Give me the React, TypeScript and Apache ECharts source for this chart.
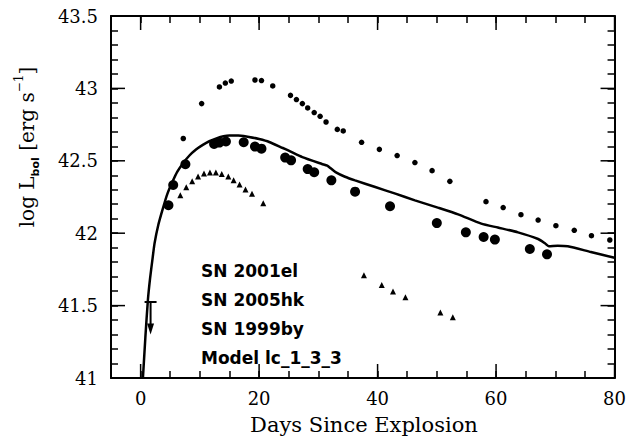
import React, { useEffect, useRef } from "react";
import * as echarts from "echarts";

// SN 2001el (upper small dots): [day, log L]
const sn2001el: number[][] = [
  [7.2, 42.654], [10.3, 42.895], [13.3, 43.01], [14.3, 43.037], [15.3, 43.051],
  [19.3, 43.058], [20.4, 43.054], [22.3, 43.017], [25.3, 42.952], [26.3, 42.923],
  [27.3, 42.895], [28.2, 42.865], [29.3, 42.833], [30.3, 42.807], [31.3, 42.768],
  [33.2, 42.717], [34.2, 42.706], [37.3, 42.628], [40.3, 42.579], [43.3, 42.536],
  [46.3, 42.488], [49.2, 42.432], [52.2, 42.358], [58.3, 42.218], [61.2, 42.177],
  [64.2, 42.128], [67.1, 42.091], [70.1, 42.052], [73.2, 42.02], [76.1, 41.983],
  [79.2, 41.953],
];

// SN 2005hk (large circles)
const sn2005hk: number[][] = [
  [4.7, 42.193], [5.5, 42.333], [7.56, 42.476], [12.4, 42.616], [13.3, 42.626],
  [14.4, 42.633], [17.4, 42.628], [19.3, 42.598], [20.4, 42.584], [24.4, 42.522],
  [25.4, 42.503], [28.2, 42.443], [29.3, 42.421], [32.2, 42.365], [36.2, 42.287],
  [42.1, 42.186], [50.0, 42.07], [54.9, 42.006], [57.9, 41.974], [59.8, 41.956],
  [65.7, 41.891], [68.6, 41.854],
];

// SN 1999by (small triangles)
const sn1999by: number[][] = [
  [6.7, 42.262], [7.7, 42.317], [8.7, 42.358], [9.7, 42.391], [10.7, 42.412],
  [11.7, 42.419], [12.7, 42.419], [13.7, 42.409], [14.8, 42.391], [15.7, 42.365],
  [16.7, 42.336], [17.7, 42.301], [18.8, 42.273], [20.7, 42.206], [37.7, 41.709],
  [40.7, 41.642], [42.6, 41.597], [44.7, 41.557], [50.6, 41.452], [52.7, 41.419],
];

// Model lc_1_3_3 (solid curve)
const modelCurve: number[][] = [
  [0.39, 41.0], [0.8, 41.28], [1.23, 41.54], [1.6, 41.69], [1.97, 41.81],
  [2.35, 41.93], [3.0, 42.06], [3.75, 42.17], [4.5, 42.27], [5.43, 42.36],
  [6.2, 42.425], [7.1, 42.48], [8.2, 42.535], [9.35, 42.578], [10.5, 42.61],
  [11.6, 42.635], [12.8, 42.655], [14.0, 42.67], [15.0, 42.675], [16.5, 42.674],
  [18.3, 42.665], [20.0, 42.65], [21.7, 42.63], [23.9, 42.59], [25.0, 42.57],
  [27.3, 42.526], [30.6, 42.478], [31.5, 42.466], [32.1, 42.448], [32.9, 42.422],
  [34.5, 42.39], [36.2, 42.365], [39.6, 42.319], [43.0, 42.273], [46.3, 42.227],
  [50.3, 42.175], [53.6, 42.13], [57.5, 42.066], [60.3, 42.039], [63.7, 42.006],
  [67.1, 41.96], [68.2, 41.932], [68.9, 41.91], [70.4, 41.914], [72.1, 41.91],
  [76.0, 41.87], [80.0, 41.83],
];

// Upper limit: [day, limit, arrow tip]
const upperLimit: number[][] = [[1.68, 41.525, 41.3]];

const xMajorTicks = [0, 20, 40, 60, 80];
const yMajorTicks = [41, 41.5, 42, 42.5, 43, 43.5];
const legendLabels = ["SN 2001el", "SN 2005hk", "SN 1999by", "Model lc_1_3_3"];

const X_MIN = -5;
const X_MAX = 80;
const Y_MIN = 41;
const Y_MAX = 43.5;

const SERIF = "DejaVu Serif";

export default function App() {
  const ref = useRef<HTMLDivElement>(null);

  useEffect(() => {
    if (!ref.current) return;
    const chart = echarts.init(ref.current, undefined, { renderer: "svg" });

    const axisLineStyle = { color: "#000", width: 2 };
    const tickStyle = { color: "#000", width: 1.5 };

    const xAxisBase = {
      type: "value",
      min: X_MIN,
      max: X_MAX,
      interval: 5,
      axisLine: { show: true, onZero: false, lineStyle: axisLineStyle },
      axisTick: { show: true, inside: true, length: 7, lineStyle: tickStyle },
      splitLine: { show: false },
    };
    const yAxisBase = {
      type: "value",
      min: Y_MIN,
      max: Y_MAX,
      interval: 0.1,
      axisLine: { show: true, onZero: false, lineStyle: axisLineStyle },
      axisTick: { show: true, inside: true, length: 7, lineStyle: tickStyle },
      splitLine: { show: false },
    };

    const legendGraphics = legendLabels.map((t, i) => ({
      type: "text",
      x: 201,
      y: 271 + i * 29,
      style: {
        text: t,
        fontFamily: "DejaVu Sans",
        fontWeight: "bold",
        fontSize: 17,
        fill: "#000",
        align: "left",
        verticalAlign: "middle",
      },
    }));

    const option = {
      animation: false,
      backgroundColor: "#fff",
      grid: { left: 111, right: 13, top: 16, bottom: 61, containLabel: false },
      xAxis: [
        {
          ...xAxisBase,
          position: "bottom",
          axisLabel: {
            show: true,
            margin: 11,
            color: "#000",
            fontFamily: SERIF,
            fontSize: 18,
            formatter: (v: number) => (Math.abs(v % 20) < 1e-9 ? String(v) : ""),
          },
        },
        { ...xAxisBase, position: "top", axisLabel: { show: false } },
      ],
      yAxis: [
        {
          ...yAxisBase,
          position: "left",
          axisLabel: {
            show: true,
            margin: 13,
            color: "#000",
            fontFamily: SERIF,
            fontSize: 18,
            formatter: (v: number) => {
              const d = v * 2;
              if (Math.abs(d - Math.round(d)) < 1e-6) return String(Math.round(v * 10) / 10);
              return "";
            },
          },
        },
        { ...yAxisBase, position: "right", axisLabel: { show: false } },
      ],
      graphic: [
        {
          type: "text",
          x: 364,
          y: 425,
          style: {
            text: "Days Since Explosion",
            fontFamily: SERIF,
            fontSize: 21,
            fill: "#000",
            align: "center",
            verticalAlign: "middle",
          },
        },
        {
          type: "text",
          x: 27,
          y: 147,
          rotation: Math.PI / 2,
          style: {
            text: "{a|log L}{b|bol}{a| [erg s}{c|−1}{a|]}",
            align: "center",
            verticalAlign: "middle",
            fill: "#000",
            rich: {
              a: { fontFamily: SERIF, fontSize: 20, lineHeight: 28, fill: "#000" },
              b: { fontFamily: "DejaVu Sans", fontWeight: "bold", fontSize: 11, verticalAlign: "bottom", fill: "#000" },
              c: { fontFamily: SERIF, fontSize: 12, verticalAlign: "top", fill: "#000" },
            },
          },
        },
        ...legendGraphics,
      ],
      series: [
        {
          name: "Model lc_1_3_3",
          type: "line",
          data: modelCurve,
          showSymbol: false,
          symbol: "none",
          smooth: 0.2,
          clip: true,
          lineStyle: { color: "#000", width: 2.5 },
          z: 3,
        },
        {
          name: "SN 2001el",
          type: "scatter",
          data: sn2001el,
          symbol: "circle",
          symbolSize: 5.5,
          itemStyle: { color: "#000", opacity: 1 },
        },
        {
          name: "SN 2005hk",
          type: "scatter",
          data: sn2005hk,
          symbol: "circle",
          symbolSize: 10,
          itemStyle: { color: "#000", opacity: 1 },
        },
        {
          name: "SN 1999by",
          type: "scatter",
          data: sn1999by,
          symbol: "triangle",
          symbolSize: 6,
          itemStyle: { color: "#000", opacity: 1 },
        },
        {
          name: "upper limit",
          type: "custom",
          data: upperLimit,
          encode: { x: 0, y: 1 },
          renderItem: (params: any, api: any) => {
            const p = api.coord([api.value(0), api.value(1)]);
            const tip = api.coord([api.value(0), api.value(2)]);
            return {
              type: "group",
              children: [
                { type: "line", shape: { x1: p[0] - 6, y1: p[1], x2: p[0] + 6, y2: p[1] }, style: { stroke: "#000", lineWidth: 2 } },
                { type: "line", shape: { x1: p[0], y1: p[1], x2: tip[0], y2: tip[1] - 6 }, style: { stroke: "#000", lineWidth: 2 } },
                {
                  type: "polygon",
                  shape: { points: [[tip[0] - 3.5, tip[1] - 11], [tip[0] + 3.5, tip[1] - 11], [tip[0], tip[1]]] },
                  style: { fill: "#000" },
                },
              ],
            };
          },
        },
        {
          name: "x major ticks",
          type: "custom",
          data: xMajorTicks.map((v) => [v, Y_MIN]),
          encode: { x: 0, y: 1 },
          silent: true,
          renderItem: (params: any, api: any) => {
            const cs = params.coordSys;
            const x = api.coord([api.value(0), Y_MIN])[0];
            const yb = cs.y + cs.height;
            const yt = cs.y;
            const st = { stroke: "#000", lineWidth: 1.5 };
            return {
              type: "group",
              children: [
                { type: "line", shape: { x1: x, y1: yb, x2: x, y2: yb - 14 }, style: st },
                { type: "line", shape: { x1: x, y1: yt, x2: x, y2: yt + 14 }, style: st },
              ],
            };
          },
        },
        {
          name: "y major ticks",
          type: "custom",
          data: yMajorTicks.map((v) => [X_MIN, v]),
          encode: { x: 0, y: 1 },
          silent: true,
          renderItem: (params: any, api: any) => {
            const cs = params.coordSys;
            const y = api.coord([X_MIN, api.value(1)])[1];
            const xl = cs.x;
            const xr = cs.x + cs.width;
            const st = { stroke: "#000", lineWidth: 1.5 };
            return {
              type: "group",
              children: [
                { type: "line", shape: { x1: xl, y1: y, x2: xl + 14, y2: y }, style: st },
                { type: "line", shape: { x1: xr, y1: y, x2: xr - 14, y2: y }, style: st },
              ],
            };
          },
        },
      ],
    };

    chart.setOption(option as any);
    return () => chart.dispose();
  }, []);

  return (
    <div
      ref={ref}
      style={{ position: "fixed", left: 0, top: 0, width: 629, height: 439, background: "#fff" }}
    />
  );
}
